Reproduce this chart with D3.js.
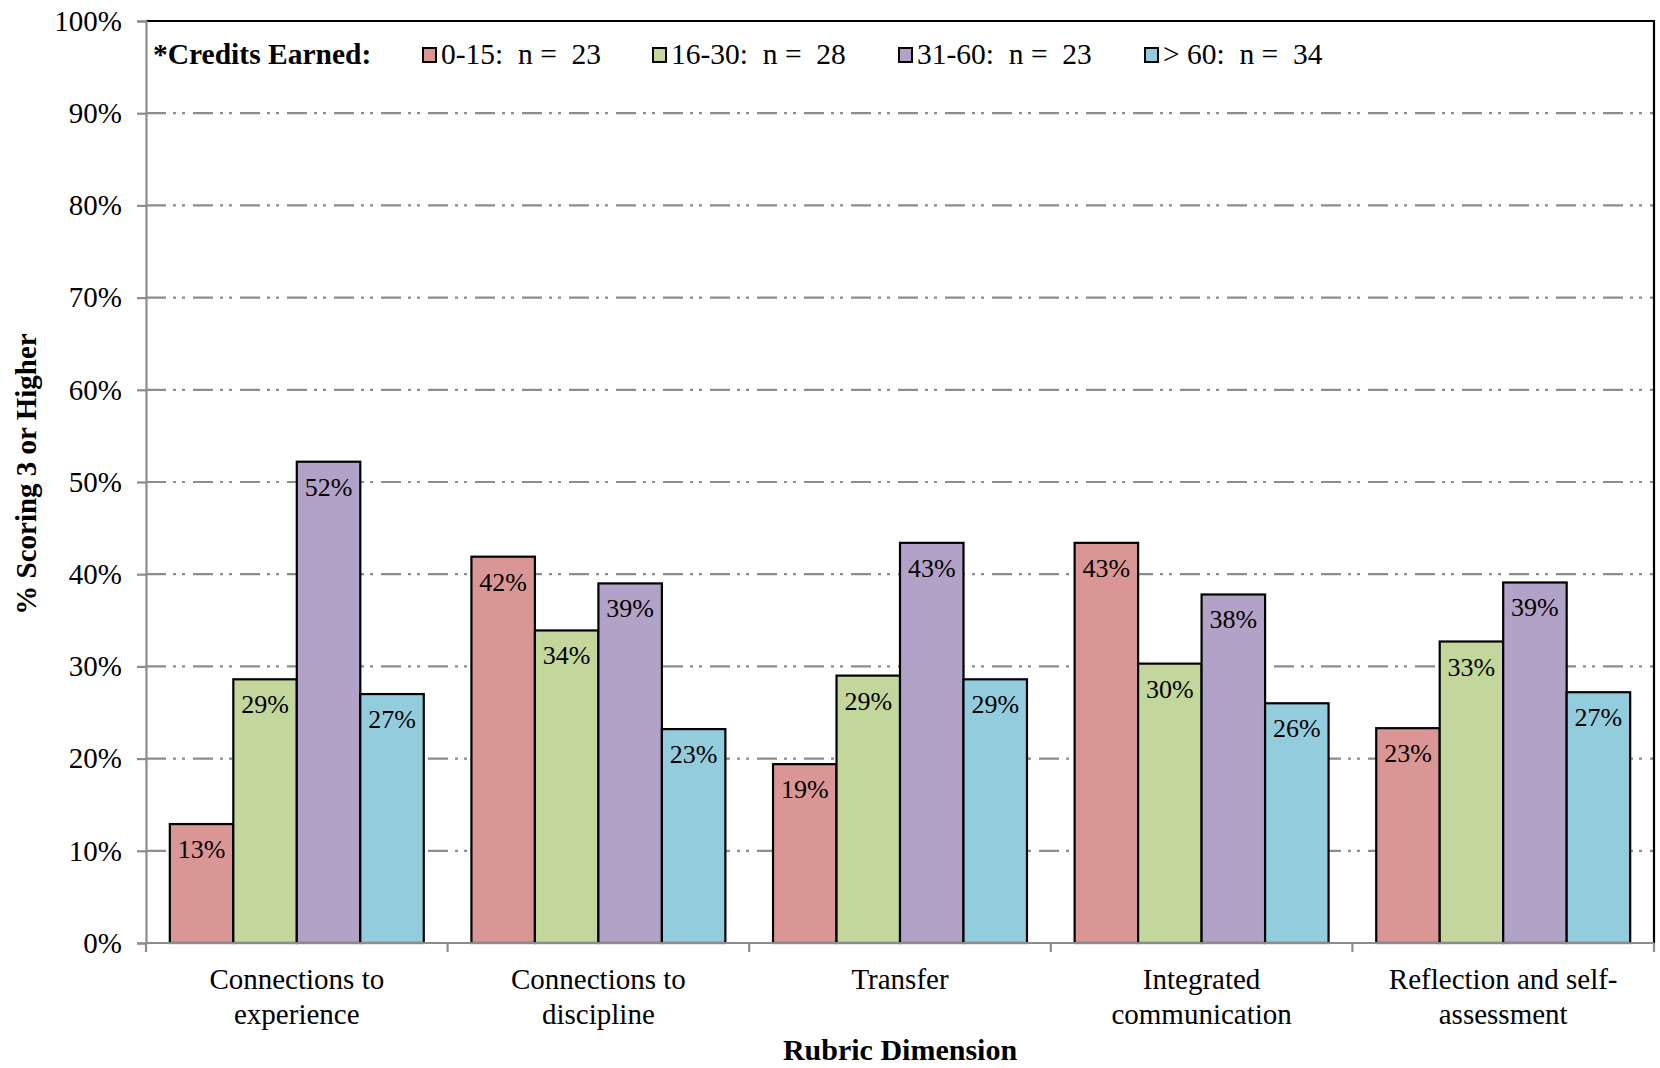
<!DOCTYPE html>
<html>
<head>
<meta charset="utf-8">
<script src="https://cdn.jsdelivr.net/npm/d3@7"></script>
<style>
  html, body { margin: 0; padding: 0; background: #fff; }
  svg { display: block; font-family: "Liberation Serif", "Times New Roman", serif; }
  text { white-space: pre; }
</style>
</head>
<body>
<svg id="chart" width="1660" height="1068"></svg>
<script>
// Rubric dimensions (x categories), each label split into display lines
const categories = [
  "Connections to experience",
  "Connections to discipline",
  "Transfer",
  "Integrated communication",
  "Reflection and self-assessment"
];
const categoryLines = [
  ["Connections to", "experience"],
  ["Connections to", "discipline"],
  ["Transfer"],
  ["Integrated", "communication"],
  ["Reflection and self-", "assessment"]
];

// Credit bands and sample sizes
const seriesNames = ["0-15", "16-30", "31-60", "> 60"];
const seriesN = [23, 28, 23, 34];
const seriesColors = ["#d99694", "#c3d69b", "#b3a2c7", "#93cddd"];

// Share scoring 3 or higher, per band, across the five dimensions
const credits0to15  = [0.129, 0.419, 0.194, 0.434, 0.233];
const credits16to30 = [0.286, 0.339, 0.290, 0.303, 0.327];
const credits31to60 = [0.522, 0.390, 0.434, 0.378, 0.391];
const creditsOver60 = [0.270, 0.232, 0.286, 0.260, 0.272];
const seriesValues = [credits0to15, credits16to30, credits31to60, creditsOver60];

const yTicks = [0, 0.1, 0.2, 0.3, 0.4, 0.5, 0.6, 0.7, 0.8, 0.9, 1.0];

// Layout
const plot = { left: 146, right: 1654, top: 21, bottom: 943 };
const svg = d3.select("#chart");

const x = d3.scaleBand()
  .domain(categories)
  .range([plot.left, plot.right])
  .paddingInner(0.158)
  .paddingOuter(0.079);

const xInner = d3.scaleBand()
  .domain(seriesNames)
  .range([0, x.bandwidth()])
  .padding(0);

const y = d3.scaleLinear().domain([0, 1]).range([plot.bottom, plot.top]);
const pct = d3.format(".0%");

const gridColor = "#8c8c8c";

// Dash-dot-dot gridlines
svg.append("g")
  .selectAll("line")
  .data(yTicks.filter(t => t > 0 && t < 1))
  .join("line")
  .attr("x1", plot.left).attr("x2", plot.right)
  .attr("y1", d => y(d)).attr("y2", d => y(d))
  .attr("stroke", gridColor)
  .attr("stroke-width", 2.2)
  .attr("stroke-dasharray", "20,7,3,6,3,8");

// Plot area frame: black top and right edges
svg.append("path")
  .attr("d", `M${plot.left},${y(1)}H${plot.right}V${plot.bottom}`)
  .attr("fill", "none")
  .attr("stroke", "#000")
  .attr("stroke-width", 2.2);

// Y axis
const yAxis = d3.axisLeft(y)
  .tickValues(yTicks)
  .tickFormat(pct)
  .tickSize(9)
  .tickPadding(15);

const gy = svg.append("g")
  .attr("transform", `translate(${plot.left},0)`)
  .call(yAxis);
gy.select(".domain").attr("stroke", gridColor).attr("stroke-width", 2.2);
gy.selectAll(".tick line").attr("stroke", gridColor).attr("stroke-width", 2.2);
gy.selectAll(".tick text")
  .attr("font-family", "Liberation Serif, Times New Roman, serif")
  .attr("font-size", 29)
  .attr("fill", "#000");

// Bars
const groups = svg.append("g")
  .selectAll("g")
  .data(categories)
  .join("g")
  .attr("transform", d => `translate(${x(d)},0)`);

const barData = (cat, ci) => seriesNames.map((s, si) => ({
  series: s, si, value: seriesValues[si][ci]
}));

groups.each(function (cat, ci) {
  const g = d3.select(this);
  const rows = barData(cat, ci);
  g.selectAll("rect")
    .data(rows)
    .join("rect")
    .attr("x", d => xInner(d.series))
    .attr("y", d => y(d.value))
    .attr("width", xInner.bandwidth())
    .attr("height", d => y(0) - y(d.value))
    .attr("fill", d => seriesColors[d.si])
    .attr("stroke", "#000")
    .attr("stroke-width", 2.2);

  g.selectAll("text.value")
    .data(rows)
    .join("text")
    .attr("class", "value")
    .attr("x", d => xInner(d.series) + xInner.bandwidth() / 2)
    .attr("y", d => y(d.value) + 34)
    .attr("text-anchor", "middle")
    .attr("font-size", 26)
    .attr("fill", "#000")
    .text(d => pct(d.value));
});

// X axis baseline and separator ticks between dimensions
const gapHalf = (x.step() - x.bandwidth()) / 2;
const boundaries = categories.map(c => x(c) - gapHalf).concat([plot.right]);

svg.append("line")
  .attr("x1", plot.left).attr("x2", plot.right)
  .attr("y1", plot.bottom).attr("y2", plot.bottom)
  .attr("stroke", gridColor).attr("stroke-width", 2.2);

svg.append("g")
  .selectAll("line")
  .data(boundaries)
  .join("line")
  .attr("x1", d => d).attr("x2", d => d)
  .attr("y1", plot.bottom).attr("y2", plot.bottom + 9)
  .attr("stroke", gridColor).attr("stroke-width", 2.2);

// Category labels
const xl = svg.append("g")
  .selectAll("text")
  .data(categories)
  .join("text")
  .attr("text-anchor", "middle")
  .attr("font-size", 29)
  .attr("fill", "#000");
xl.each(function (c, i) {
  const t = d3.select(this);
  categoryLines[i].forEach((line, li) => {
    t.append("tspan")
      .attr("x", x(c) + x.bandwidth() / 2)
      .attr("y", 989 + li * 35)
      .text(line);
  });
});

// Axis titles
svg.append("text")
  .attr("x", (plot.left + plot.right) / 2)
  .attr("y", 1060)
  .attr("text-anchor", "middle")
  .attr("font-size", 30)
  .attr("font-weight", "bold")
  .text("Rubric Dimension");

svg.append("text")
  .attr("transform", `translate(36,${474}) rotate(-90)`)
  .attr("text-anchor", "middle")
  .attr("font-size", 29)
  .attr("font-weight", "bold")
  .text("% Scoring 3 or Higher");

// Legend
const legend = svg.append("g");
legend.append("text")
  .attr("x", 153).attr("y", 64)
  .attr("font-size", 29.5)
  .attr("font-weight", "bold")
  .text("*Credits Earned:");

const legendX = [423, 653, 899, 1145];
const items = legend.selectAll("g.item")
  .data(seriesNames)
  .join("g")
  .attr("class", "item")
  .attr("transform", (d, i) => `translate(${legendX[i]},0)`);
items.append("rect")
  .attr("x", 0).attr("y", 48)
  .attr("width", 13).attr("height", 14)
  .attr("fill", (d, i) => seriesColors[i])
  .attr("stroke", "#000")
  .attr("stroke-width", 2);
items.append("text")
  .attr("x", 18).attr("y", 64)
  .attr("font-size", 29.5)
  .text((d, i) => `${d}:  n =  ${seriesN[i]}`);
</script>
</body>
</html>
